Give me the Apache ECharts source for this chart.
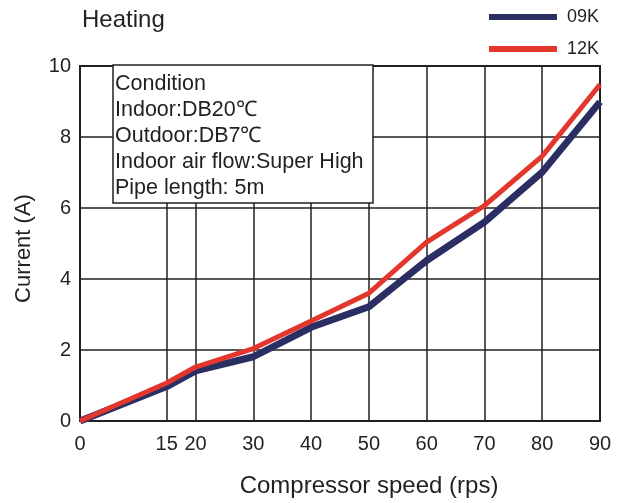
<html>
<head>
<meta charset="utf-8">
<script src="https://cdn.jsdelivr.net/npm/echarts@6/dist/echarts.min.js"></script>
</head>
<body style="margin:0">
<div id="chart-main" style="width:626px;height:503px;"></div>

<script type="text/javascript">
	// 数据
	var speeds = [0, 15, 20, 30, 40, 50, 60, 70, 80, 90];
	var current09K = [0, 0.97, 1.41, 1.81, 2.64, 3.22, 4.52, 5.6, 7.01, 8.99];
	var current12K = [0, 1.07, 1.52, 2.04, 2.82, 3.6, 5.04, 6.07, 7.46, 9.48];
	var xTicks = [0, 15, 20, 30, 40, 50, 60, 70, 80, 90];
	var conditionLines = [
		'Condition',
		'Indoor:DB20\u2103',
		'Outdoor:DB7\u2103',
		'Indoor air flow:Super High',
		'Pipe length: 5m'
	];

	var ink = '#231f20';
	var font = 'Liberation Sans, Arial, sans-serif';

	function pairs(ys) {
		return speeds.map(function (x, i) { return [x, ys[i]]; });
	}

	// 每 5 一个刻度，只有 xTicks 里的才画竖线
	var stepColors = [];
	for (var v = 0; v <= 90; v += 5) {
		stepColors.push(xTicks.indexOf(v) >= 0 ? ink : 'rgba(0,0,0,0)');
	}

	var myChart = echarts.init(document.getElementById('chart-main'));
	var option = {
		animation: false,
		textStyle: { fontFamily: font, color: ink },
		title: {
			text: 'Heating',
			left: 77,
			top: 3,
			textStyle: { fontSize: 24, fontWeight: 'normal', color: ink, fontFamily: font }
		},
		legend: {
			orient: 'vertical',
			right: 22,
			top: 3,
			icon: 'rect',
			itemWidth: 68,
			itemHeight: 6,
			itemGap: 14,
			textStyle: { fontSize: 18, color: ink, fontFamily: font, padding: [0, 0, 0, 5] },
			data: ['09K', '12K']
		},
		grid: {
			left: 80,
			right: 26,
			top: 66,
			bottom: 82,
			show: true,
			borderColor: ink,
			borderWidth: 2
		},
		xAxis: {
			type: 'value',
			min: 0,
			max: 90,
			interval: 5,
			name: 'Compressor speed (rps)',
			nameLocation: 'middle',
			nameGap: 53,
			nameTextStyle: { fontSize: 24, color: ink, padding: [0, 0, 0, 58] },
			axisLine: { lineStyle: { color: ink, width: 2 } },
			axisTick: { show: false },
			axisLabel: {
				fontSize: 20,
				color: ink,
				margin: 13,
				formatter: function (val) {
					return xTicks.indexOf(val) >= 0 ? String(val) : '';
				}
			},
			splitLine: { show: true, lineStyle: { color: stepColors, width: 1.5 } }
		},
		yAxis: {
			type: 'value',
			min: 0,
			max: 10,
			interval: 2,
			name: 'Current (A)',
			nameLocation: 'middle',
			nameGap: 45,
			nameTextStyle: { fontSize: 22, color: ink, padding: [0, 10, 0, 0] },
			axisLine: { show: true, lineStyle: { color: ink, width: 2 } },
			axisTick: { show: false },
			axisLabel: { fontSize: 20, color: ink, margin: 9 },
			splitLine: { lineStyle: { color: ink, width: 1.5 } }
		},
		graphic: [{
			type: 'rect',
			z: 100,
			shape: { x: 113, y: 65, width: 260, height: 138 },
			style: { fill: '#ffffff', stroke: ink, lineWidth: 1.5 }
		}, {
			type: 'text',
			z: 101,
			x: 115,
			y: 71,
			style: {
				text: conditionLines.join('\n'),
				font: '21.5px ' + font,
				lineHeight: 26,
				fill: ink
			}
		}],
		series: [{
			name: '09K',
			type: 'line',
			data: pairs(current09K),
			symbol: 'none',
			color: '#2b2e63',
			lineStyle: { width: 7, color: '#2b2e63' },
			z: 3
		}, {
			name: '12K',
			type: 'line',
			data: pairs(current12K),
			symbol: 'none',
			color: '#e3372d',
			lineStyle: { width: 5, color: '#e3372d' },
			z: 4
		}]
	};

	myChart.setOption(option);
</script>

</body>
</html>
